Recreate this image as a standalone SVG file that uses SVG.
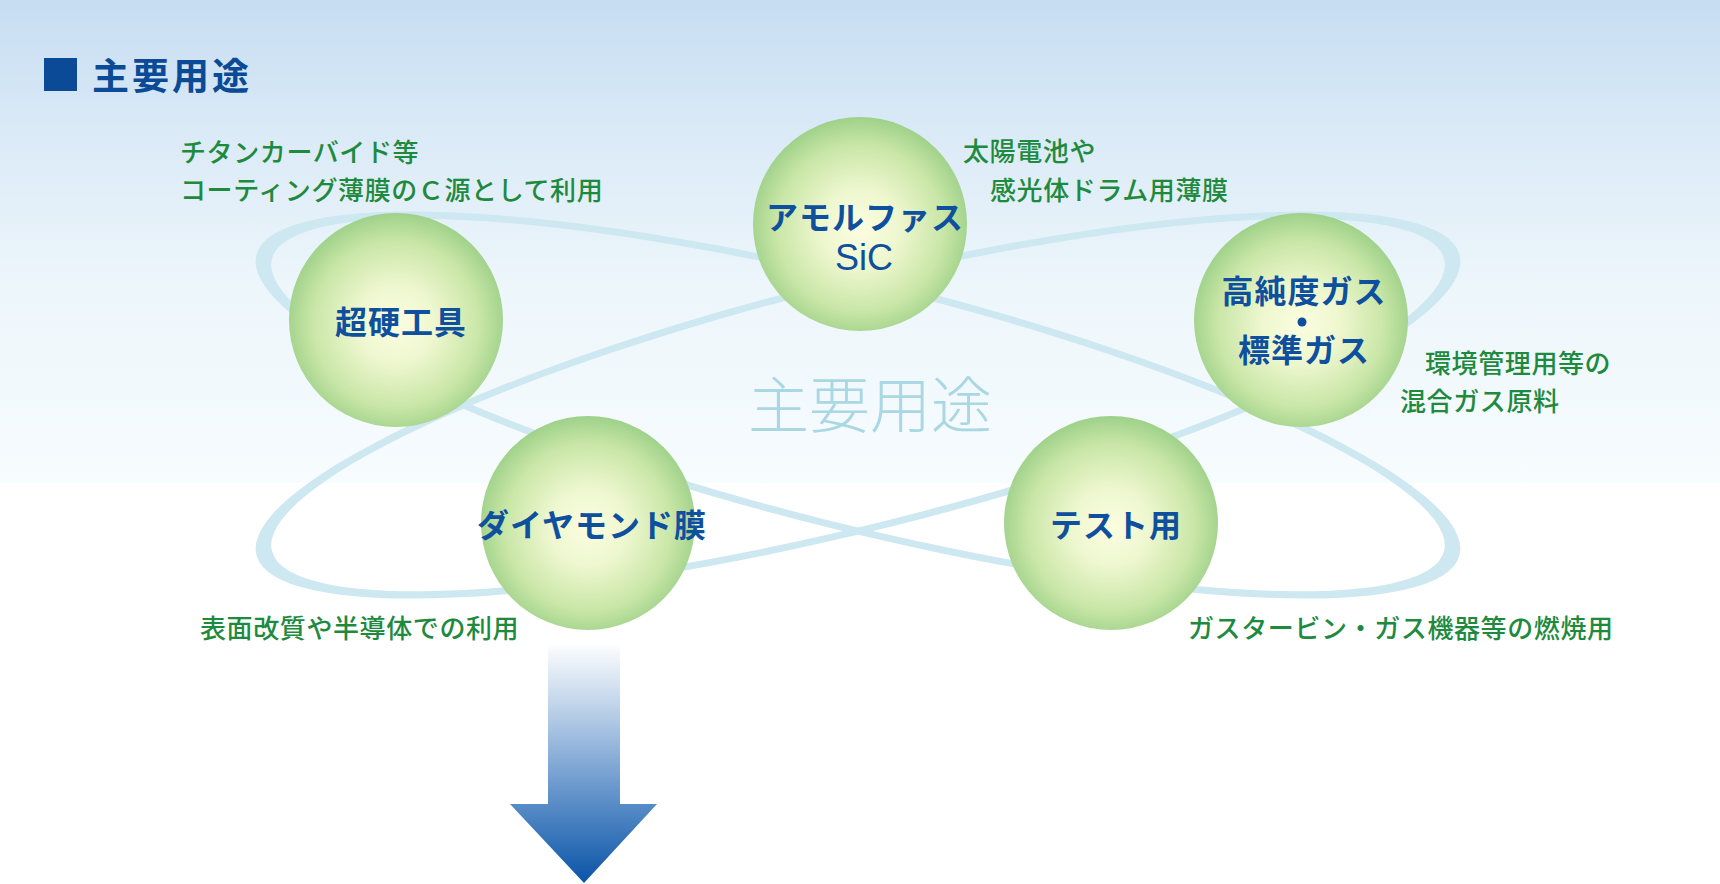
<svg xmlns="http://www.w3.org/2000/svg" width="1720" height="884" viewBox="0 0 1720 884">
<defs>
<linearGradient id="bg" x1="0" y1="0" x2="0" y2="483" gradientUnits="userSpaceOnUse">
<stop offset="0" stop-color="#c6ddf2"/>
<stop offset="0.3" stop-color="#dcebf7"/>
<stop offset="0.6" stop-color="#edf6fb"/>
<stop offset="1" stop-color="#f7fcfe"/>
</linearGradient>
<radialGradient id="ball" cx="50%" cy="52%" r="52%">
<stop offset="0" stop-color="#fbfde0"/>
<stop offset="0.35" stop-color="#eef7cf"/>
<stop offset="0.75" stop-color="#c9e6a7"/>
<stop offset="1" stop-color="#9ed189"/>
</radialGradient>
<linearGradient id="arrowGrad" x1="0" y1="642" x2="0" y2="883" gradientUnits="userSpaceOnUse">
<stop offset="0" stop-color="#ffffff"/>
<stop offset="0.25" stop-color="#c3d6eb"/>
<stop offset="0.65" stop-color="#5e90c9"/>
<stop offset="1" stop-color="#0a54a7"/>
</linearGradient>
<style>
.ring{fill:#cde8f0;fill-rule:evenodd}
.ball{fill:url(#ball)}
.blue{font-family:"Noto Sans CJK JP","Noto Sans",sans-serif;font-weight:700;font-size:32px;fill:#0e4f9e;text-anchor:middle;letter-spacing:1px}
.green{font-family:"Noto Sans CJK JP","Noto Sans",sans-serif;font-weight:500;font-size:26px;fill:#1e8a3e;letter-spacing:0.6px}
</style>
</defs>
<rect x="0" y="0" width="1720" height="884" fill="#ffffff"/>
<rect x="0" y="0" width="1720" height="483" fill="url(#bg)"/>
<g id="title">
<rect x="44" y="58" width="33" height="33" fill="#0b4a97"/>
<text x="92" y="90" font-family="Noto Sans CJK JP, sans-serif" font-weight="700" font-size="37" fill="#0b4a97" letter-spacing="3">主要用途</text>
</g>
<g id="watermark">
<text x="870" y="428" font-family="Noto Sans CJK JP, sans-serif" font-weight="300" font-size="61" fill="#a9d7e3" text-anchor="middle">主要用途</text>
</g>
<g id="connectors">
<path class="ring" transform="translate(858,405) rotate(14)" d="M-620,0 A620,126 0 1 0 620,0 A620,126 0 1 0 -620,0 Z M-604,0 A604,119 0 1 0 604,0 A604,119 0 1 0 -604,0 Z"/>
<path class="ring" transform="translate(858,405) rotate(-14)" d="M-620,0 A620,126 0 1 0 620,0 A620,126 0 1 0 -620,0 Z M-604,0 A604,119 0 1 0 604,0 A604,119 0 1 0 -604,0 Z"/>
</g>
<g id="node-chokou">
<circle class="ball" cx="396" cy="320" r="107"/>
<text class="blue" x="401" y="334" font-size="33">超硬工具</text>
</g>
<g id="node-amorphous">
<circle class="ball" cx="860" cy="224" r="107"/>
<text class="blue" x="865" y="229">アモルファス</text>
<text x="864" y="270" font-family="Liberation Sans, Arial, sans-serif" font-size="36" fill="#0e4f9e" text-anchor="middle">SiC</text>
</g>
<g id="node-gas">
<circle class="ball" cx="1301" cy="320" r="107"/>
<text class="blue" x="1304" y="303">高純度ガス</text>
<circle cx="1302" cy="322" r="4.5" fill="#0e4f9e"/>
<text class="blue" x="1304" y="362">標準ガス</text>
</g>
<g id="node-diamond">
<circle class="ball" cx="588" cy="523" r="107"/>
<text class="blue" x="592" y="537">ダイヤモンド膜</text>
</g>
<g id="node-test">
<circle class="ball" cx="1111" cy="523" r="107"/>
<text class="blue" x="1116" y="537">テスト用</text>
</g>
<g id="labels">
<text class="green" x="180" y="162">チタンカーバイド等</text>
<text class="green" x="180" y="200">コーティング薄膜のＣ源として利用</text>
<text class="green" x="963" y="161">太陽電池や</text>
<text class="green" x="990" y="200">感光体ドラム用薄膜</text>
<text class="green" x="1425" y="373">環境管理用等の</text>
<text class="green" x="1400" y="411">混合ガス原料</text>
<text class="green" x="200" y="638">表面改質や半導体での利用</text>
<text class="green" x="1188" y="638">ガスタービン・ガス機器等の燃焼用</text>
</g>
<g id="arrow">
<path d="M548,642 L620,642 L620,804 L657,804 L584,883 L510,804 L548,804 Z" fill="url(#arrowGrad)"/>
</g>
</svg>
